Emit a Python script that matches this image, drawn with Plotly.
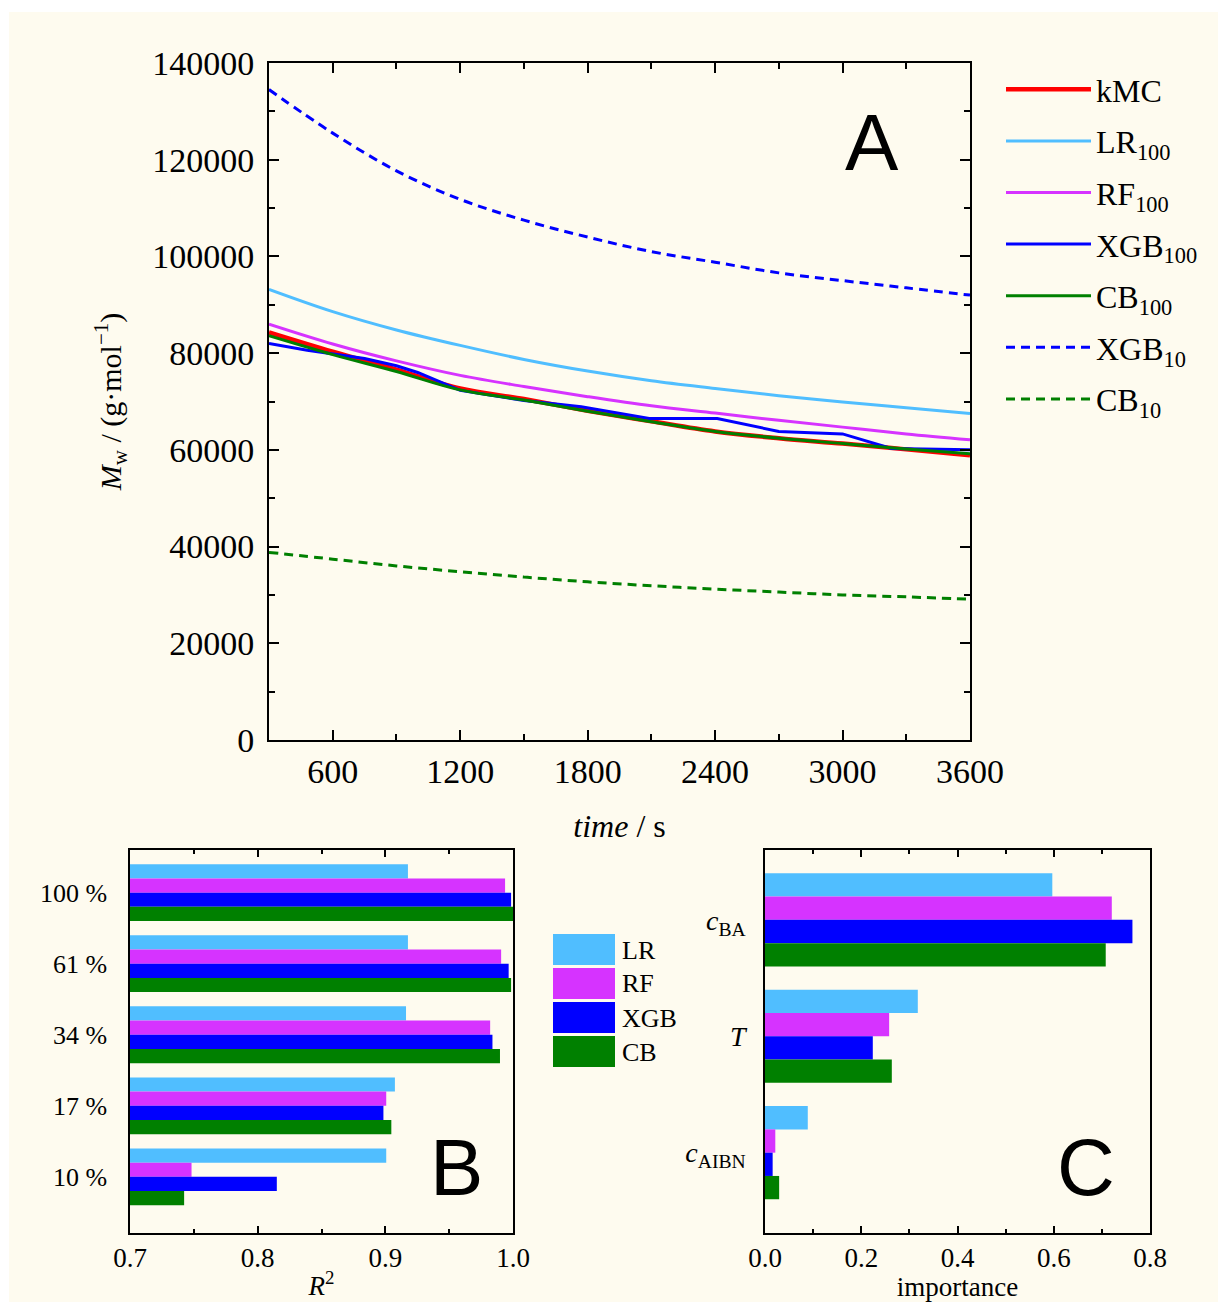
import plotly.graph_objects as go

# ---------------- data: panel A ----------------
time_s = [300, 600, 900, 1200, 1500, 1800, 2100, 2400, 2700, 3000, 3300, 3600]
kmc = [84300, 80300, 76600, 72700, 70500, 68100, 65900, 63800, 62400, 61300, 60100, 58900]
lr100 = [93200, 88600, 84800, 81600, 78700, 76300, 74300, 72700, 71200, 69900, 68700, 67500]
rf100 = [86000, 81900, 78400, 75400, 73100, 71000, 69100, 67600, 66100, 64700, 63300, 62100]
cb100 = [83600, 79700, 76200, 72400, 70300, 68000, 65800, 63800, 62400, 61300, 60200, 59200]
xgb10 = [134500, 125500, 117700, 111800, 107500, 104000, 101000, 98800, 96600, 95000, 93500, 92000]
cb10 = [38800, 37400, 36000, 34800, 33700, 32700, 31900, 31200, 30600, 30000, 29600, 29100]

time_xgb = [300, 480, 750, 900, 1000, 1200, 1500, 1770, 2090, 2410, 2700, 3000, 3230, 3600]
xgb100 = [82000, 80600, 78900, 77400, 76000, 72300, 70200, 68900, 66500, 66500, 63800, 63300, 60300, 60000]

# ---------------- data: panel B ----------------
fractions = ["100 %", "61 %", "34 %", "17 %", "10 %"]
r2_lr = [0.9177, 0.9177, 0.9162, 0.9075, 0.9007]
r2_rf = [0.9938, 0.9907, 0.9821, 0.9007, 0.7482]
r2_xgb = [0.9985, 0.9966, 0.9839, 0.8985, 0.8150]
r2_cb = [1.0000, 0.9985, 0.9898, 0.9047, 0.7424]

# ---------------- data: panel C ----------------
features = ["<i>c</i><sub>BA</sub>", "<i>T</i>", "<i>c</i><sub>AIBN</sub>"]
imp_lr = [0.597, 0.3175, 0.0889]
imp_rf = [0.7206, 0.258, 0.0214]
imp_xgb = [0.7635, 0.224, 0.0159]
imp_cb = [0.708, 0.2635, 0.0294]

model_names = ["LR", "RF", "XGB", "CB"]
model_colors = ["#50BEFF", "#D633FF", "#0000FF", "#008000"]

W, H = 1218, 1302
SERIF = "Liberation Serif"
SANS = "Liberation Sans"


def px_x(p):
    return p / W


def px_y(p):
    return 1 - p / H


fig = go.Figure()

line_specs = [
    ("kMC", time_s, kmc, "#FF0000", 4.5, "solid", "spline"),
    ("LR<sub>100</sub>", time_s, lr100, "#50BEFF", 3, "solid", "spline"),
    ("RF<sub>100</sub>", time_s, rf100, "#D633FF", 3, "solid", "spline"),
    ("XGB<sub>100</sub>", time_xgb, xgb100, "#0000FF", 3, "solid", "linear"),
    ("CB<sub>100</sub>", time_s, cb100, "#008000", 3, "solid", "spline"),
    ("XGB<sub>10</sub>", time_s, xgb10, "#0000FF", 3, "9px,6px", "spline"),
    ("CB<sub>10</sub>", time_s, cb10, "#008000", 3, "9px,6px", "spline"),
]
for i, (name, xs, ys, col, lw, dash, shape) in enumerate(line_specs):
    fig.add_trace(go.Scatter(
        x=xs, y=ys, name=name, mode="lines",
        line=dict(color=col, width=lw, dash=dash, shape=shape),
        xaxis="x", yaxis="y", legendgroup=f"g{i}",
    ))

for vals, name, col in zip([r2_lr, r2_rf, r2_xgb, r2_cb], model_names, model_colors):
    fig.add_trace(go.Bar(
        x=vals, y=fractions, orientation="h", name=name,
        marker=dict(color=col, line=dict(width=0)),
        xaxis="x2", yaxis="y2", showlegend=False,
    ))

for vals, name, col in zip([imp_lr, imp_rf, imp_xgb, imp_cb], model_names, model_colors):
    fig.add_trace(go.Bar(
        x=vals, y=features, orientation="h", name=name,
        marker=dict(color=col, line=dict(width=0)),
        xaxis="x3", yaxis="y3", showlegend=False,
    ))

axis_common = dict(
    showline=True, linecolor="black", mirror="ticks", automargin=False,
    ticks="inside", tickcolor="black", showgrid=False, zeroline=False,
)

tick_font_A = dict(family=SERIF, size=34, color="black")
tick_font_B = dict(family=SERIF, size=27, color="black")

shapes = [
    dict(type="rect", xref="paper", yref="paper", x0=px_x(9), x1=1, y0=0, y1=px_y(12),
         fillcolor="#FEFBEF", line=dict(width=0), layer="below"),
]
annotations = [
    dict(text="A", x=px_x(872), y=px_y(142), xref="paper", yref="paper", showarrow=False,
         font=dict(family=SANS, size=80, color="black"), xanchor="center", yanchor="middle"),
    dict(text="B", x=px_x(456), y=px_y(1167), xref="paper", yref="paper", showarrow=False,
         font=dict(family=SANS, size=80, color="black"), xanchor="center", yanchor="middle"),
    dict(text="C", x=px_x(1086), y=px_y(1167), xref="paper", yref="paper", showarrow=False,
         font=dict(family=SANS, size=80, color="black"), xanchor="center", yanchor="middle"),
]

# manual legend for panels B and C
sw_tops = [934, 968, 1002, 1036]
for name, col, top in zip(model_names, model_colors, sw_tops):
    shapes.append(dict(type="rect", xref="paper", yref="paper",
                       x0=px_x(553), x1=px_x(615), y0=px_y(top + 31), y1=px_y(top),
                       fillcolor=col, line=dict(width=0)))
    annotations.append(dict(text=name, x=px_x(620), y=px_y(top + 16), xref="paper", yref="paper",
                            showarrow=False, xanchor="left", yanchor="middle",
                            font=dict(family=SERIF, size=26, color="black")))

fig.update_layout(
    width=W, height=H,
    margin=dict(l=0, r=0, t=0, b=0, autoexpand=False),
    paper_bgcolor="white", plot_bgcolor="white",
    font=dict(family=SERIF, color="black"),
    barmode="group", bargap=0.2, bargroupgap=0,
    showlegend=True,
    legend=dict(
        x=px_x(1001), y=px_y(62), xanchor="left", yanchor="top",
        bgcolor="rgba(0,0,0,0)", font=dict(family=SERIF, size=32, color="black"),
        itemwidth=85, tracegroupgap=7, traceorder="grouped",
    ),
    xaxis=dict(
        **axis_common, domain=[px_x(269), px_x(970)], anchor="y",
        range=[300, 3600], tick0=0, dtick=600, ticklen=10, tickwidth=2, linewidth=2,
        minor=dict(dtick=300, ticklen=6, tickwidth=2, ticks="inside", tickcolor="black"),
        tickfont=tick_font_A,
        title=dict(text="<i>time</i> / s", font=dict(family=SERIF, size=32, color="black"), standoff=26),
    ),
    yaxis=dict(
        **axis_common, domain=[px_y(740), px_y(63)], anchor="x",
        range=[0, 140000], tick0=0, dtick=20000, tickformat="d", ticklen=10, tickwidth=2, linewidth=2,
        minor=dict(dtick=10000, ticklen=6, tickwidth=2, ticks="inside", tickcolor="black"),
        tickfont=tick_font_A, ticklabelstandoff=6,
        title=dict(text="<i>M</i><sub>w</sub> / (g·mol<sup>−1</sup>)",
                   font=dict(family=SERIF, size=30, color="black"), standoff=22),
    ),
    xaxis2=dict(
        **axis_common, domain=[px_x(130), px_x(513)], anchor="y2",
        range=[0.7, 1.0], tick0=0.7, dtick=0.1, tickformat=".1f", ticklen=7, tickwidth=1.5, linewidth=1.5,
        minor=dict(dtick=0.05, ticklen=4, tickwidth=1.5, ticks="inside", tickcolor="black"),
        tickfont=tick_font_B,
        title=dict(text="<i>R</i><sup>2</sup>", font=dict(family=SERIF, size=27, color="black"), standoff=4),
    ),
    yaxis2=dict(
        showline=True, linecolor="black", linewidth=1.5, mirror=True, ticks="", showgrid=False,
        zeroline=False, automargin=False, domain=[px_y(1233), px_y(850)], anchor="x2",
        type="category", range=[4.79, -0.6], tickfont=dict(family=SERIF, size=26, color="black"),
        ticklabelstandoff=16,
    ),
    xaxis3=dict(
        **axis_common, domain=[px_x(765), px_x(1150)], anchor="y3",
        range=[0, 0.8], tick0=0, dtick=0.2, tickformat=".1f", ticklen=7, tickwidth=1.5, linewidth=1.5,
        minor=dict(dtick=0.1, ticklen=4, tickwidth=1.5, ticks="inside", tickcolor="black"),
        tickfont=tick_font_B,
        title=dict(text="importance", font=dict(family=SERIF, size=27, color="black"), standoff=0),
    ),
    yaxis3=dict(
        showline=True, linecolor="black", linewidth=1.5, mirror=True, ticks="", showgrid=False,
        zeroline=False, automargin=False, domain=[px_y(1233), px_y(850)], anchor="x3",
        type="category", range=[2.69, -0.6], tickfont=dict(family=SERIF, size=28, color="black"),
        ticklabelstandoff=12,
    ),
    shapes=shapes,
    annotations=annotations,
)

fig.write_html("out.html")
